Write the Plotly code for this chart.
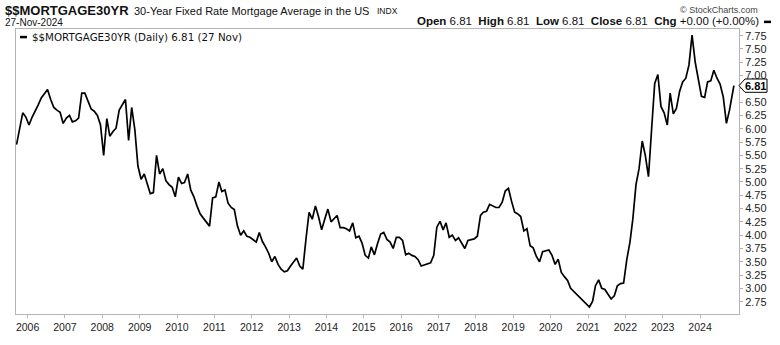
import pandas as pd
import plotly.graph_objects as go

# 30-year fixed mortgage rate, mid-month readings (%), one list per calendar year
rates_2005 = [5.70, 5.98, 6.30, 6.22]  # Sep-Dec
rates_2006 = [6.07, 6.22, 6.32, 6.45, 6.58, 6.66, 6.74, 6.55, 6.40, 6.35, 6.31, 6.10]
rates_2007 = [6.20, 6.25, 6.13, 6.15, 6.20, 6.67, 6.67, 6.52, 6.37, 6.33, 6.25, 6.07]
rates_2008 = [5.50, 6.19, 5.86, 5.95, 6.01, 6.35, 6.45, 6.55, 5.78, 6.40, 5.98, 5.30]
rates_2009 = [5.05, 5.15, 4.97, 4.78, 4.80, 5.50, 5.15, 5.25, 5.02, 4.95, 4.90, 4.72]
rates_2010 = [5.09, 4.97, 4.99, 5.15, 4.85, 4.72, 4.55, 4.40, 4.32, 4.25, 4.17, 4.70]
rates_2011 = [4.72, 5.00, 4.82, 4.85, 4.60, 4.52, 4.48, 4.17, 4.00, 4.08, 3.98, 3.96]
rates_2012 = [3.92, 3.87, 4.05, 3.88, 3.78, 3.66, 3.50, 3.60, 3.45, 3.36, 3.31, 3.33]
rates_2013 = [3.42, 3.51, 3.57, 3.42, 3.36, 3.93, 4.43, 4.30, 4.55, 4.35, 4.10, 4.30]
rates_2014 = [4.49, 4.25, 4.30, 4.37, 4.14, 4.14, 4.12, 4.08, 4.23, 3.95, 3.98, 3.85]
rates_2015 = [3.62, 3.57, 3.78, 3.63, 3.84, 4.02, 4.05, 3.92, 3.87, 3.75, 3.96, 3.96]
rates_2016 = [3.90, 3.63, 3.66, 3.62, 3.60, 3.54, 3.42, 3.44, 3.45, 3.48, 3.62, 4.15]
rates_2017 = [4.26, 4.10, 4.23, 3.96, 4.00, 3.90, 3.95, 3.86, 3.75, 3.90, 3.92, 3.93]
rates_2018 = [3.98, 4.37, 4.43, 4.45, 4.58, 4.55, 4.52, 4.52, 4.62, 4.83, 4.88, 4.64]
rates_2019 = [4.43, 4.40, 4.35, 4.08, 4.12, 3.80, 3.76, 3.60, 3.50, 3.69, 3.70, 3.72]
rates_2020 = [3.62, 3.45, 3.55, 3.30, 3.22, 3.15, 3.00, 2.94, 2.88, 2.82, 2.77, 2.70]
rates_2021 = [2.65, 2.76, 3.05, 3.16, 3.00, 2.98, 2.88, 2.80, 2.86, 3.05, 3.09, 3.10]
rates_2022 = [3.54, 3.87, 4.30, 4.95, 5.25, 5.77, 5.50, 5.10, 6.00, 6.85, 7.02, 6.42]
rates_2023 = [6.30, 6.07, 6.67, 6.28, 6.38, 6.70, 6.88, 6.95, 7.20, 7.76, 7.25, 6.95]
rates_2024 = [6.61, 6.59, 6.88, 6.90, 7.10, 6.95, 6.84, 6.60, 6.10, 6.35, 6.81]  # Jan-Nov

first_month = "2005-09-01"
last_date = "2024-11-27"
year_labels = [str(y) for y in range(2006, 2025)]
y_ticks = [2.75 + 0.25 * i for i in range(21)]

rate = (rates_2005 + rates_2006 + rates_2007 + rates_2008 + rates_2009 + rates_2010
        + rates_2011 + rates_2012 + rates_2013 + rates_2014 + rates_2015 + rates_2016
        + rates_2017 + rates_2018 + rates_2019 + rates_2020 + rates_2021 + rates_2022
        + rates_2023 + rates_2024)
dates = list(pd.date_range(first_month, periods=len(rate), freq="MS") + pd.Timedelta(days=14))
dates[-1] = pd.Timestamp(last_date)
last = rate[-1]

# plot-area geometry in pixels
W, H = 780, 345
L, R, T, B = 16, 739, 29, 329
PW, PH = R - L, B - T


def px(x):
    return (x - L) / PW


def py(y):
    return (B - y) / PH


FONT = "Liberation Sans, Arial, sans-serif"
GRID = "#b4b4b4"

fig = go.Figure()
fig.add_trace(go.Scatter(
    x=dates, y=rate, mode="lines",
    line=dict(color="black", width=1.7),
    hoverinfo="skip", showlegend=False,
))

tick_text = ["" if abs(v - 6.75) < 1e-9 else f"{v:.2f}" for v in y_ticks]

fig.update_layout(
    width=W, height=H,
    margin=dict(l=L, r=W - R, t=T, b=H - B),
    paper_bgcolor="white", plot_bgcolor="white",
    font=dict(family=FONT, size=10.5, color="#222"),
    xaxis=dict(
        type="date",
        range=["2005-09-10", "2025-01-16"],
        tickvals=[f"{y}-01-01" for y in year_labels],
        ticktext=year_labels,
        ticks="outside", ticklen=3, tickcolor=GRID,
        showgrid=False, zeroline=False,
        showline=True, linecolor=GRID, linewidth=1, mirror=True,
        tickfont=dict(family=FONT, size=10.5, color="#222"),
    ),
    yaxis=dict(
        side="right",
        range=[2.518, 7.875],
        tickvals=y_ticks, ticktext=tick_text,
        ticks="outside", ticklen=3, tickcolor=GRID,
        showgrid=False, zeroline=False,
        showline=True, linecolor=GRID, linewidth=1, mirror=True,
        tickfont=dict(family=FONT, size=11, color="#222"),
    ),
)

ann = []
# header, left
ann.append(dict(x=px(3), y=py(9.5), xanchor="left", yanchor="middle",
                text="<b>$$MORTGAGE30YR</b>",
                font=dict(family=FONT, size=13, color="#111")))
ann.append(dict(x=px(132), y=py(10), xanchor="left", yanchor="middle",
                text="30-Year Fixed Rate Mortgage Average in the US",
                font=dict(family=FONT, size=11, color="#111")))
ann.append(dict(x=px(375), y=py(10.5), xanchor="left", yanchor="middle",
                text="INDX", font=dict(family=FONT, size=8.5, color="#111")))
ann.append(dict(x=px(3), y=py(22.5), xanchor="left", yanchor="middle",
                text="27-Nov-2024", font=dict(family=FONT, size=10, color="#111")))
# header, right
ann.append(dict(x=px(760), y=py(8.5), xanchor="right", yanchor="middle",
                text="© StockCharts.com", font=dict(family=FONT, size=9, color="#444")))
ann.append(dict(x=px(761), y=py(21), xanchor="right", yanchor="middle",
                text=(f"<b>Open</b> {last:.2f}  <b>High</b> {last:.2f}  <b>Low</b> {last:.2f}  "
                      f"<b>Close</b> {last:.2f}  <b>Chg</b> +0.00 (+0.00%)"),
                font=dict(family=FONT, size=11.5, color="#111")))
# series caption inside the plot
ann.append(dict(x=px(30), y=py(37.5), xanchor="left", yanchor="middle",
                text=f"$$MORTGAGE30YR (Daily) {last:.2f} (27 Nov)",
                font=dict(family="DejaVu Sans, Verdana, sans-serif", size=10.3, color="#111")))
# last value tag on the price axis
ann.append(dict(x=px(R + 16), y=last, yref="y", xanchor="center", yanchor="middle",
                text=f"<b>{last:.2f}</b>", font=dict(family=FONT, size=11, color="#000")))

for a in ann:
    a.setdefault("xref", "paper")
    a.setdefault("yref", "paper")
    a["showarrow"] = False
fig.update_layout(annotations=ann)

shapes = [
    # caption and header line keys
    dict(type="line", xref="paper", yref="paper", x0=px(20), x1=px(27), y0=py(37.5), y1=py(37.5),
         line=dict(color="black", width=2.5)),
    dict(type="line", xref="paper", yref="paper", x0=px(764), x1=px(771), y0=py(21.5), y1=py(21.5),
         line=dict(color="black", width=2.5)),
]
# pointer box for the last value
tip, body, right = px(R), px(R + 6), px(R + 28)
half = 7 * (7.875 - 2.518) / PH
shapes.append(dict(
    type="path", xref="paper", yref="y", layer="above",
    path=(f"M {tip} {last} L {body} {last + half} L {right} {last + half} "
          f"L {right} {last - half} L {body} {last - half} Z"),
    fillcolor="white", line=dict(color="black", width=1),
))
fig.update_layout(shapes=shapes)

fig.write_html("out.html")
